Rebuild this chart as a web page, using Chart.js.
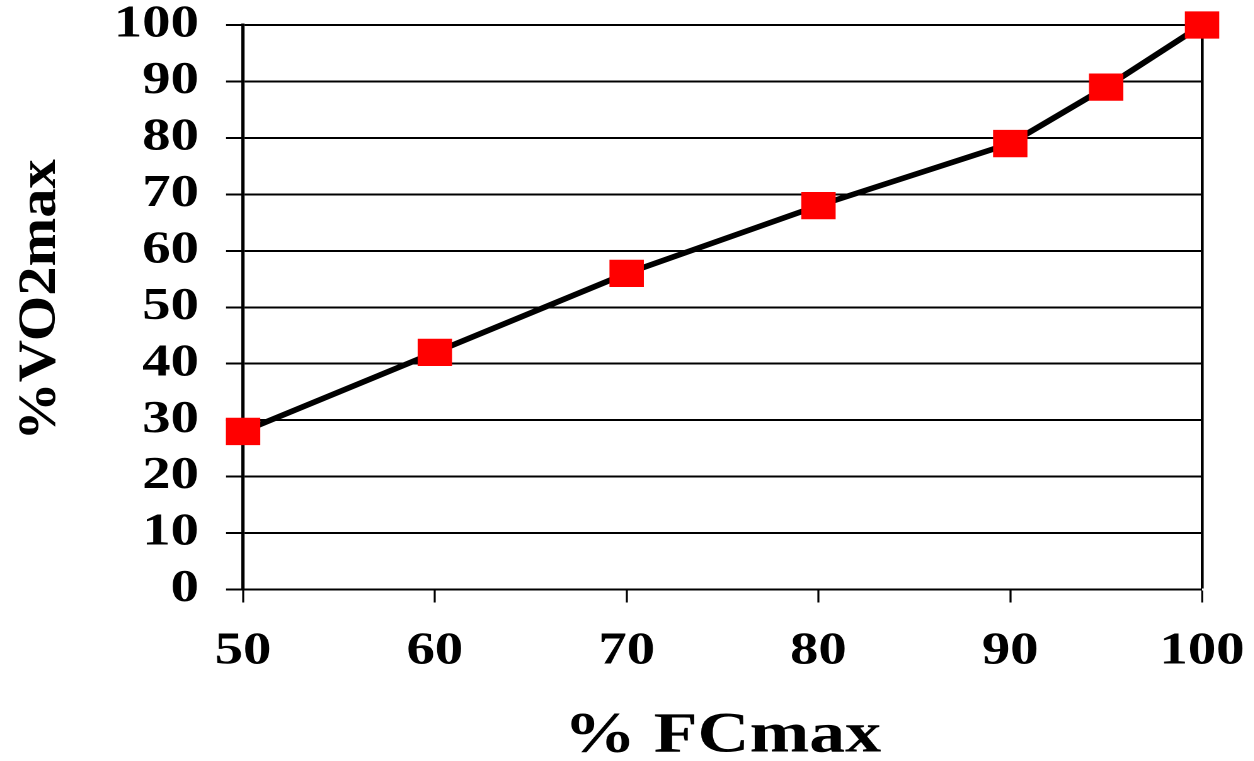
<!DOCTYPE html>
<html>
<head>
<meta charset="utf-8">
<script src="https://cdn.jsdelivr.net/npm/chart.js@4/dist/chart.umd.min.js"></script>
<style>
  html, body { margin: 0; padding: 0; background: #fff; overflow: hidden; }
  /* the chart is laid out narrow and stretched sideways, like the wide serif lettering */
  #wrap {
    position: absolute; left: 0; top: 0;
    width: 995px; height: 761px;
    transform: scaleX(1.26); transform-origin: 0 0;
  }
</style>
</head>
<body>
<div id="wrap"><canvas id="chart"></canvas></div>
<script>
// % of maximal heart rate against % of maximal oxygen uptake
const fcMax  = [50, 60, 70, 80, 90, 95, 100];
const vo2Max = [28, 42, 56, 68, 79, 89, 100];

const xTickValues = [50, 60, 70, 80, 90, 100];
const yTickValues = [0, 10, 20, 30, 40, 50, 60, 70, 80, 90, 100];

const xTitle = '% FCmax';
const yTitle = '%VO2max';

const SERIF = "'Liberation Serif', 'Times New Roman', Times, serif";

// rotated y-axis title, drawn long and tight along the axis
const yTitlePlugin = {
  id: 'yTitle',
  afterDraw(chart) {
    const ctx = chart.ctx;
    ctx.save();
    ctx.font = 'bold 42px ' + SERIF;
    const m = ctx.measureText(yTitle);
    const ink = m.actualBoundingBoxLeft + m.actualBoundingBoxRight;
    ctx.translate(43.6, 300);
    ctx.rotate(-Math.PI / 2);
    ctx.scale(276 / ink, 1);
    ctx.fillStyle = '#000';
    ctx.textAlign = 'center';
    ctx.textBaseline = 'alphabetic';
    ctx.fillText(yTitle, 0, 0);
    ctx.restore();
  }
};

function draw() {
  new Chart(document.getElementById('chart'), {
    type: 'line',
    data: {
      datasets: [{
        data: fcMax.map((x, i) => ({ x: x, y: vo2Max[i] })),
        borderColor: '#000',
        borderWidth: 5.5,
        tension: 0,
        pointStyle: 'rect',
        pointRadius: 19.3,
        pointHoverRadius: 19.3,
        pointBackgroundColor: '#ff0000',
        pointBorderColor: '#ff0000',
        pointBorderWidth: 0,
        clip: false
      }]
    },
    options: {
      responsive: true,
      maintainAspectRatio: false,
      devicePixelRatio: 2,
      animation: false,
      layout: { padding: { top: 25, right: 41, bottom: 0, left: 0 } },
      plugins: { legend: { display: false }, tooltip: { enabled: false } },
      scales: {
        x: {
          type: 'linear',
          min: 50,
          max: 100,
          afterBuildTicks: s => { s.ticks = xTickValues.map(v => ({ value: v })); },
          afterFit: s => { s.height = 171.5; },
          border: { display: true, color: '#000', width: 2 },
          grid: {
            drawOnChartArea: true,
            color: c => (c.tick && c.tick.value === 100) ? '#000' : 'rgba(0,0,0,0)',
            lineWidth: c => (c.tick && c.tick.value === 100) ? 2.3 : 0,
            tickColor: '#000',
            tickWidth: 1.6,
            tickLength: 13
          },
          ticks: {
            color: '#000',
            padding: 0,
            maxRotation: 0,
            autoSkip: false,
            // tall line box keeps the labels well below the tick marks
            font: { family: SERIF, size: 45, weight: 'bold', lineHeight: 2.2 }
          },
          title: {
            display: true,
            text: xTitle,
            color: '#000',
            padding: { top: 0, bottom: 1.2 },
            font: { family: SERIF, size: 57, weight: 'bold', lineHeight: 0.8 }
          }
        },
        y: {
          type: 'linear',
          min: 0,
          max: 100,
          afterBuildTicks: s => { s.ticks = yTickValues.map(v => ({ value: v })); },
          afterFit: s => { s.width = 192.9; },
          border: { display: true, color: '#000', width: 2.6 },
          grid: {
            color: '#000',
            lineWidth: 2,
            tickColor: '#000',
            tickLength: 13.5
          },
          ticks: {
            color: '#000',
            padding: 21.5,
            autoSkip: false,
            font: { family: SERIF, size: 45, weight: 'bold', lineHeight: 0.05 }
          },
          title: { display: false }
        }
      }
    },
    plugins: [yTitlePlugin]
  });
}

const fontReady = document.fonts && document.fonts.load
  ? Promise.all([
      document.fonts.load("bold 45px 'Liberation Serif'"),
      document.fonts.load("bold 57px 'Liberation Serif'")
    ]).catch(() => null)
  : Promise.resolve();
fontReady.then(draw, draw);
</script>
</body>
</html>
